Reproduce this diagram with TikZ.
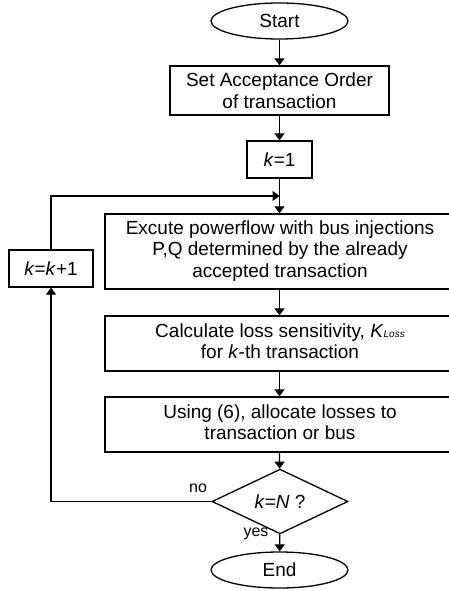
\documentclass[tikz,border=0pt]{standalone}
\usepackage{fontspec}
\setmainfont{Liberation Sans}
\usetikzlibrary{shapes.geometric,arrows.meta}
\newcommand{\lefttext}[1]{\makebox[0pt]{\hspace{-30pt}\begin{tabular}{@{}c@{}}#1\end{tabular}}}
\begin{document}
\begin{tikzpicture}[x=1pt,y=-1pt,
  font=\fontsize{19}{21.5}\selectfont,
  every node/.style={inner sep=0pt, align=center},
  procbox/.style={draw, rectangle, line width=1.3pt},
  widebox/.style={procbox, minimum width=380pt},
  term/.style={draw, ellipse, line width=1.3pt, minimum width=137pt, minimum height=36pt},
  decis/.style={draw, diamond, line width=1.3pt, minimum width=136pt, minimum height=45pt},
  flow/.style={line width=1.2pt, -{Triangle[length=7pt,width=10pt]}},
  lab/.style={font=\fontsize{16}{18}\selectfont}
]
\useasboundingbox (0,0) rectangle (448,591);
\node[term] (start) at (279.5,21) {Start};
\node[procbox, minimum width=219pt, minimum height=49pt] (order) at (279.5,90.5) {Set Acceptance Order\\of transaction};
\node[procbox, minimum width=65pt, minimum height=37pt] (kone) at (279.5,159.5) {\textit{k}=1};
\node[widebox, minimum height=75pt] (pf) at (295,251.5) {\lefttext{Excute powerflow with bus injections\\P,Q determined by the already\\accepted transaction}};
\node[widebox, minimum height=55pt] (sens) at (295,343.5) {\lefttext{Calculate loss sensitivity, \textit{K}{\fontsize{10}{12}\selectfont\textit{Loss}}\\for \textit{k}-th transaction}};
\node[widebox, minimum height=55pt] (alloc) at (295,424.5) {\lefttext{Using (6), allocate losses to\\transaction or bus}};
\node[decis] (dec) at (280,501.5) {\textit{k}=\textit{N} ?};
\node[term] (end) at (279.5,570) {End};
\node[procbox, minimum width=84pt, minimum height=37pt] (inc) at (51,268.5) {\textit{k}=\textit{k}+1};
\coordinate (join) at (279.5,196);
\draw[flow] (start) -- (order);
\draw[flow] (order) -- (kone);
\draw[flow] (kone) -- (kone |- pf.north);
\draw[flow] (pf.south -| kone) -- (kone |- sens.north);
\draw[flow] (sens.south -| kone) -- (kone |- alloc.north);
\draw[flow] (alloc.south -| kone) -- (dec);
\draw[flow] (dec) -- (end);
\draw[flow] (dec.west) -| (inc.south);
\draw[flow] (inc.north) |- (join);
\node[lab] (no) at (198,488) {no};
\node[lab] (yes) at (256,534) {yes};
\end{tikzpicture}
\end{document}
